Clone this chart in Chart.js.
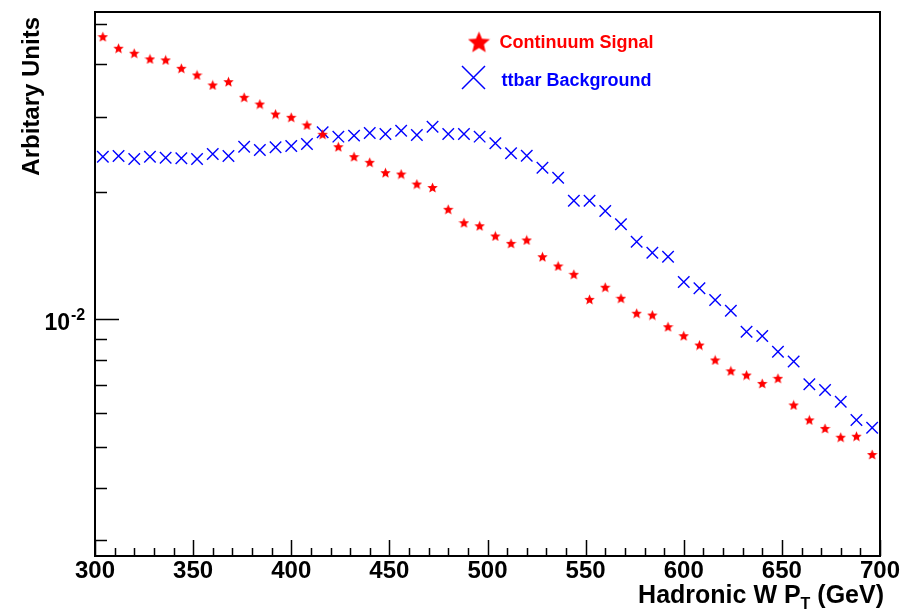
<!DOCTYPE html>
<html>
<head>
<meta charset="utf-8">
<title>Hadronic W pT</title>
<script src="https://cdn.jsdelivr.net/npm/chart.js@4.4.0/dist/chart.umd.min.js"></script>
<style>
    html, body { margin: 0; padding: 0; background: #ffffff; }
    #ptChart { display: block; }
</style>
</head>
<body>
<canvas id="ptChart" width="921" height="611"></canvas>
<script>
// Bin centres (GeV), 8 GeV bins between 300 and 700
const binCenters = [
    304, 312, 320, 328, 336, 344, 352, 360, 368, 376,
    384, 392, 400, 408, 416, 424, 432, 440, 448, 456,
    464, 472, 480, 488, 496, 504, 512, 520, 528, 536,
    544, 552, 560, 568, 576, 584, 592, 600, 608, 616,
    624, 632, 640, 648, 656, 664, 672, 680, 688, 696
];

// Normalised shapes
const signalValues = [
    0.04654, 0.04370, 0.04253, 0.04123, 0.04101, 0.03919, 0.03779, 0.03578, 0.03643, 0.03346,
    0.03226, 0.03055, 0.03001, 0.02878, 0.02736, 0.02557, 0.02422, 0.02349, 0.02220, 0.02204,
    0.02087, 0.02048, 0.01819, 0.01691, 0.01663, 0.01573, 0.01511, 0.01539, 0.01405, 0.01336,
    0.01277, 0.01114, 0.01190, 0.01121, 0.01033, 0.01023, 0.00960, 0.00914, 0.00869, 0.00801,
    0.00755, 0.00738, 0.00705, 0.00725, 0.00627, 0.00578, 0.00552, 0.00526, 0.00529, 0.00479
];
const ttbarValues = [
    0.02422, 0.02431, 0.02391, 0.02422, 0.02409, 0.02401, 0.02391, 0.02458, 0.02431, 0.02557,
    0.02512, 0.02549, 0.02567, 0.02595, 0.02766, 0.02701, 0.02716, 0.02755, 0.02740, 0.02790,
    0.02726, 0.02851, 0.02740, 0.02740, 0.02701, 0.02605, 0.02467, 0.02435, 0.02281, 0.02160,
    0.01906, 0.01906, 0.01803, 0.01676, 0.01525, 0.01436, 0.01405, 0.01224, 0.01183, 0.01110,
    0.01047, 0.00934, 0.00913, 0.00838, 0.00794, 0.00702, 0.00680, 0.00638, 0.00578, 0.00554
];

const seriesNames = ['Continuum Signal', 'ttbar Background'];
const seriesColors = ['#ff0000', '#0000ff'];

// Axis ticks
const xMajorTicks = [300, 350, 400, 450, 500, 550, 600, 650, 700];
const xMinorTicks = [
    310, 320, 330, 340, 360, 370, 380, 390, 410, 420, 430, 440,
    460, 470, 480, 490, 510, 520, 530, 540, 560, 570, 580, 590,
    610, 620, 630, 640, 660, 670, 680, 690
];
const yMajorTicks = [0.01];
const yMinorTicks = [0.003, 0.004, 0.005, 0.006, 0.007, 0.008, 0.009, 0.02, 0.03, 0.04, 0.05];

const FONT = "'Liberation Sans', Arial, Helvetica, sans-serif";

/**
 * Filled five-pointed star used as a point style
 */
function makeStar(size, color) {
    const c = document.createElement('canvas');
    c.width = size;
    c.height = size;
    const g = c.getContext('2d');
    const R = size / 2;
    const r = R * 0.45;
    g.beginPath();
    for (let i = 0; i < 10; i++) {
        const rad = (i % 2 === 0) ? R : r;
        const a = -Math.PI / 2 + i * Math.PI / 5;
        const px = R + rad * Math.cos(a);
        const py = R + rad * Math.sin(a) + R * 0.08;
        if (i === 0) g.moveTo(px, py); else g.lineTo(px, py);
    }
    g.closePath();
    g.fillStyle = color;
    g.fill();
    return c;
}

function drawCross(ctx, x, y, half, color, width) {
    ctx.save();
    ctx.strokeStyle = color;
    ctx.lineWidth = width;
    ctx.beginPath();
    ctx.moveTo(x - half, y - half);
    ctx.lineTo(x + half, y + half);
    ctx.moveTo(x - half, y + half);
    ctx.lineTo(x + half, y - half);
    ctx.stroke();
    ctx.restore();
}

// Frame, inward ticks, axis titles and the legend box
const framePlugin = {
    id: 'rootFrame',
    afterDraw(chart) {
        const ctx = chart.ctx;
        const area = chart.chartArea;
        const xs = chart.scales.x;
        const ys = chart.scales.y;

        ctx.save();
        ctx.strokeStyle = '#000';
        ctx.lineWidth = 1.5;
        ctx.beginPath();
        xMajorTicks.forEach(v => {
            const px = Math.round(xs.getPixelForValue(v)) + 0.5;
            ctx.moveTo(px, area.bottom);
            ctx.lineTo(px, area.bottom - 16);
        });
        xMinorTicks.forEach(v => {
            const px = Math.round(xs.getPixelForValue(v)) + 0.5;
            ctx.moveTo(px, area.bottom);
            ctx.lineTo(px, area.bottom - 8);
        });
        yMajorTicks.forEach(v => {
            const py = Math.round(ys.getPixelForValue(v)) + 0.5;
            ctx.moveTo(area.left, py);
            ctx.lineTo(area.left + 24, py);
        });
        yMinorTicks.forEach(v => {
            const py = Math.round(ys.getPixelForValue(v)) + 0.5;
            ctx.moveTo(area.left, py);
            ctx.lineTo(area.left + 12, py);
        });
        ctx.stroke();

        ctx.lineWidth = 2;
        ctx.strokeRect(area.left, area.top, area.right - area.left, area.bottom - area.top);

        // 10^-2 label
        ctx.fillStyle = '#000';
        const yLab = ys.getPixelForValue(yMajorTicks[0]);
        ctx.textAlign = 'right';
        ctx.textBaseline = 'alphabetic';
        ctx.font = 'bold 23px ' + FONT;
        ctx.fillText('10', 70, yLab + 11);
        ctx.textAlign = 'left';
        ctx.font = 'bold 16px ' + FONT;
        ctx.fillText('-2', 71, yLab + 1);

        // x title with subscript
        const big = 'bold 25px ' + FONT;
        const small = 'bold 16px ' + FONT;
        const partA = 'Hadronic W P';
        const partB = 'T';
        const partC = ' (GeV)';
        ctx.font = big;
        const wA = ctx.measureText(partA).width;
        const wC = ctx.measureText(partC).width;
        ctx.font = small;
        const wB = ctx.measureText(partB).width;
        let tx = 884 - (wA + wB + wC);
        const base = 603;
        ctx.font = big;
        ctx.fillText(partA, tx, base);
        tx += wA;
        ctx.font = small;
        ctx.fillText(partB, tx, base + 6);
        tx += wB;
        ctx.font = big;
        ctx.fillText(partC, tx, base);

        // y title
        ctx.save();
        ctx.translate(39, 17);
        ctx.rotate(-Math.PI / 2);
        ctx.textAlign = 'right';
        ctx.font = 'bold 24px ' + FONT;
        ctx.fillText('Arbitary Units', 0, 0);
        ctx.restore();

        // legend
        const legendStar = makeStar(23, seriesColors[0]);
        ctx.drawImage(legendStar, 479 - 11.5, 42 - 11.5);
        drawCross(ctx, 473.5, 77.5, 11.5, seriesColors[1], 1.5);
        ctx.font = 'bold 18px ' + FONT;
        ctx.textAlign = 'left';
        ctx.fillStyle = seriesColors[0];
        ctx.fillText(seriesNames[0], 499.5, 48);
        ctx.fillStyle = seriesColors[1];
        ctx.fillText(seriesNames[1], 501.5, 86);
        ctx.restore();
    }
};

const toPoints = (values) => values.map((v, i) => ({ x: binCenters[i], y: v }));

new Chart(document.getElementById('ptChart'), {
    type: 'scatter',
    data: {
        datasets: [
            {
                label: seriesNames[0],
                data: toPoints(signalValues),
                pointStyle: makeStar(11, seriesColors[0]),
                pointRadius: 6,
                backgroundColor: seriesColors[0],
                borderColor: seriesColors[0]
            },
            {
                label: seriesNames[1],
                data: toPoints(ttbarValues),
                pointStyle: 'crossRot',
                pointRadius: 8.1,
                pointBorderWidth: 1.4,
                borderWidth: 1.4,
                backgroundColor: seriesColors[1],
                borderColor: seriesColors[1]
            }
        ]
    },
    options: {
        responsive: false,
        animation: false,
        layout: { padding: { left: 0, right: 41, top: 12, bottom: 0 } },
        plugins: {
            legend: { display: false },
            tooltip: { enabled: false }
        },
        scales: {
            x: {
                type: 'linear',
                position: 'bottom',
                min: 300,
                max: 700,
                grid: { display: false },
                border: { display: false },
                afterFit: (scale) => { scale.height = 55; },
                afterBuildTicks: (scale) => {
                    scale.ticks = xMajorTicks.map(v => ({ value: v }));
                },
                ticks: {
                    autoSkip: false,
                    maxRotation: 0,
                    padding: -7,
                    color: '#000',
                    font: { family: FONT, size: 24, weight: 'bold' }
                }
            },
            y: {
                type: 'logarithmic',
                position: 'left',
                min: 0.002756,
                max: 0.05323,
                bounds: 'data',
                grid: { display: false },
                border: { display: false },
                afterFit: (scale) => { scale.width = 95; },
                ticks: { display: false }
            }
        }
    },
    plugins: [framePlugin]
});
</script>
</body>
</html>
